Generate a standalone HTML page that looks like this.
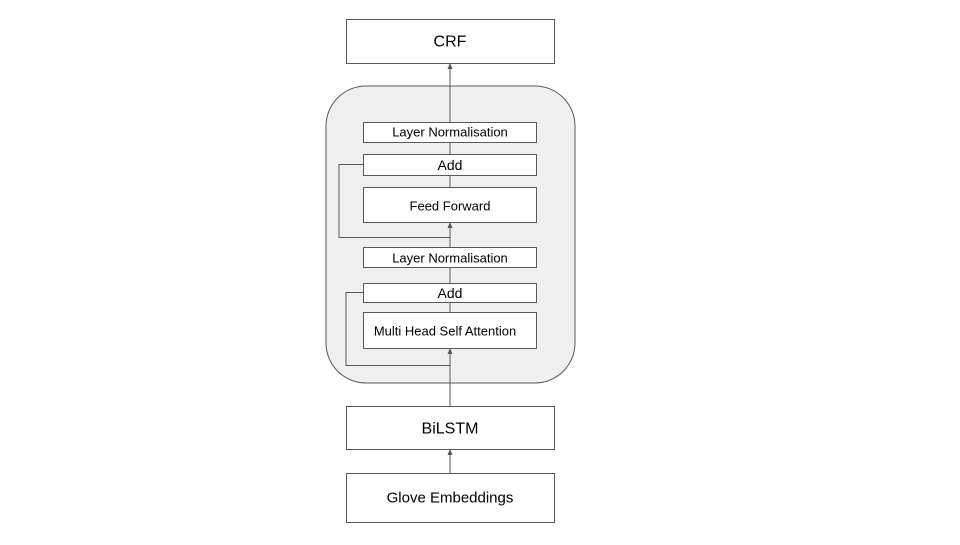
<!DOCTYPE html>
<html><head><style>
body{margin:0;width:960px;height:540px;background:#fff;overflow:hidden}
svg text{font-family:"Liberation Sans",sans-serif;fill:#000;text-anchor:middle;dominant-baseline:central}
</style></head><body>
<svg width="960" height="540" viewBox="0 0 960 540">
<defs><marker id="a" markerWidth="6" markerHeight="6" refX="5" refY="3" orient="auto" markerUnits="userSpaceOnUse"><path d="M0,0.5 L6,3 L0,5.5z" fill="#555"/></marker></defs>
<rect x="326" y="86" width="249" height="297" rx="40" fill="#efefef" stroke="#595959"/>
<g stroke="#595959" fill="none">
<line x1="450" y1="473" x2="450" y2="450" marker-end="url(#a)"/>
<line x1="450" y1="406" x2="450" y2="349" marker-end="url(#a)"/>
<line x1="450" y1="247" x2="450" y2="223" marker-end="url(#a)"/>
<line x1="450" y1="122" x2="450" y2="64" marker-end="url(#a)"/>
<line x1="450" y1="312" x2="450" y2="302"/>
<line x1="450" y1="283" x2="450" y2="267"/>
<line x1="450" y1="187" x2="450" y2="175"/>
<line x1="450" y1="154" x2="450" y2="142"/>
<polyline points="363,164.5 339,164.5 339,237.5 450,237.5"/>
<polyline points="363,292.5 346,292.5 346,365.5 450,365.5"/>
</g>
<g fill="#fff" stroke="#595959">
<rect x="346.5" y="19.5" width="208" height="44"/>
<rect x="363.5" y="122.5" width="173" height="20"/>
<rect x="363.5" y="154.5" width="173" height="21"/>
<rect x="363.5" y="187.5" width="173" height="35"/>
<rect x="363.5" y="247.5" width="173" height="20"/>
<rect x="363.5" y="283.5" width="173" height="19"/>
<rect x="363.5" y="312.5" width="173" height="36"/>
<rect x="346.5" y="406.5" width="208" height="43"/>
<rect x="346.5" y="473.5" width="208" height="49"/>
</g>
<text x="450" y="42" font-size="16">CRF</text>
<text x="450" y="132" font-size="13">Layer Normalisation</text>
<text x="450" y="165" font-size="14">Add</text>
<text x="450" y="206" font-size="13">Feed Forward</text>
<text x="450" y="258" font-size="13">Layer Normalisation</text>
<text x="450" y="293" font-size="14">Add</text>
<text x="445" y="331" font-size="13">Multi Head Self Attention</text>
<text x="450" y="429" font-size="16">BiLSTM</text>
<text x="450" y="498" font-size="15">Glove Embeddings</text>
</svg>
</body></html>
